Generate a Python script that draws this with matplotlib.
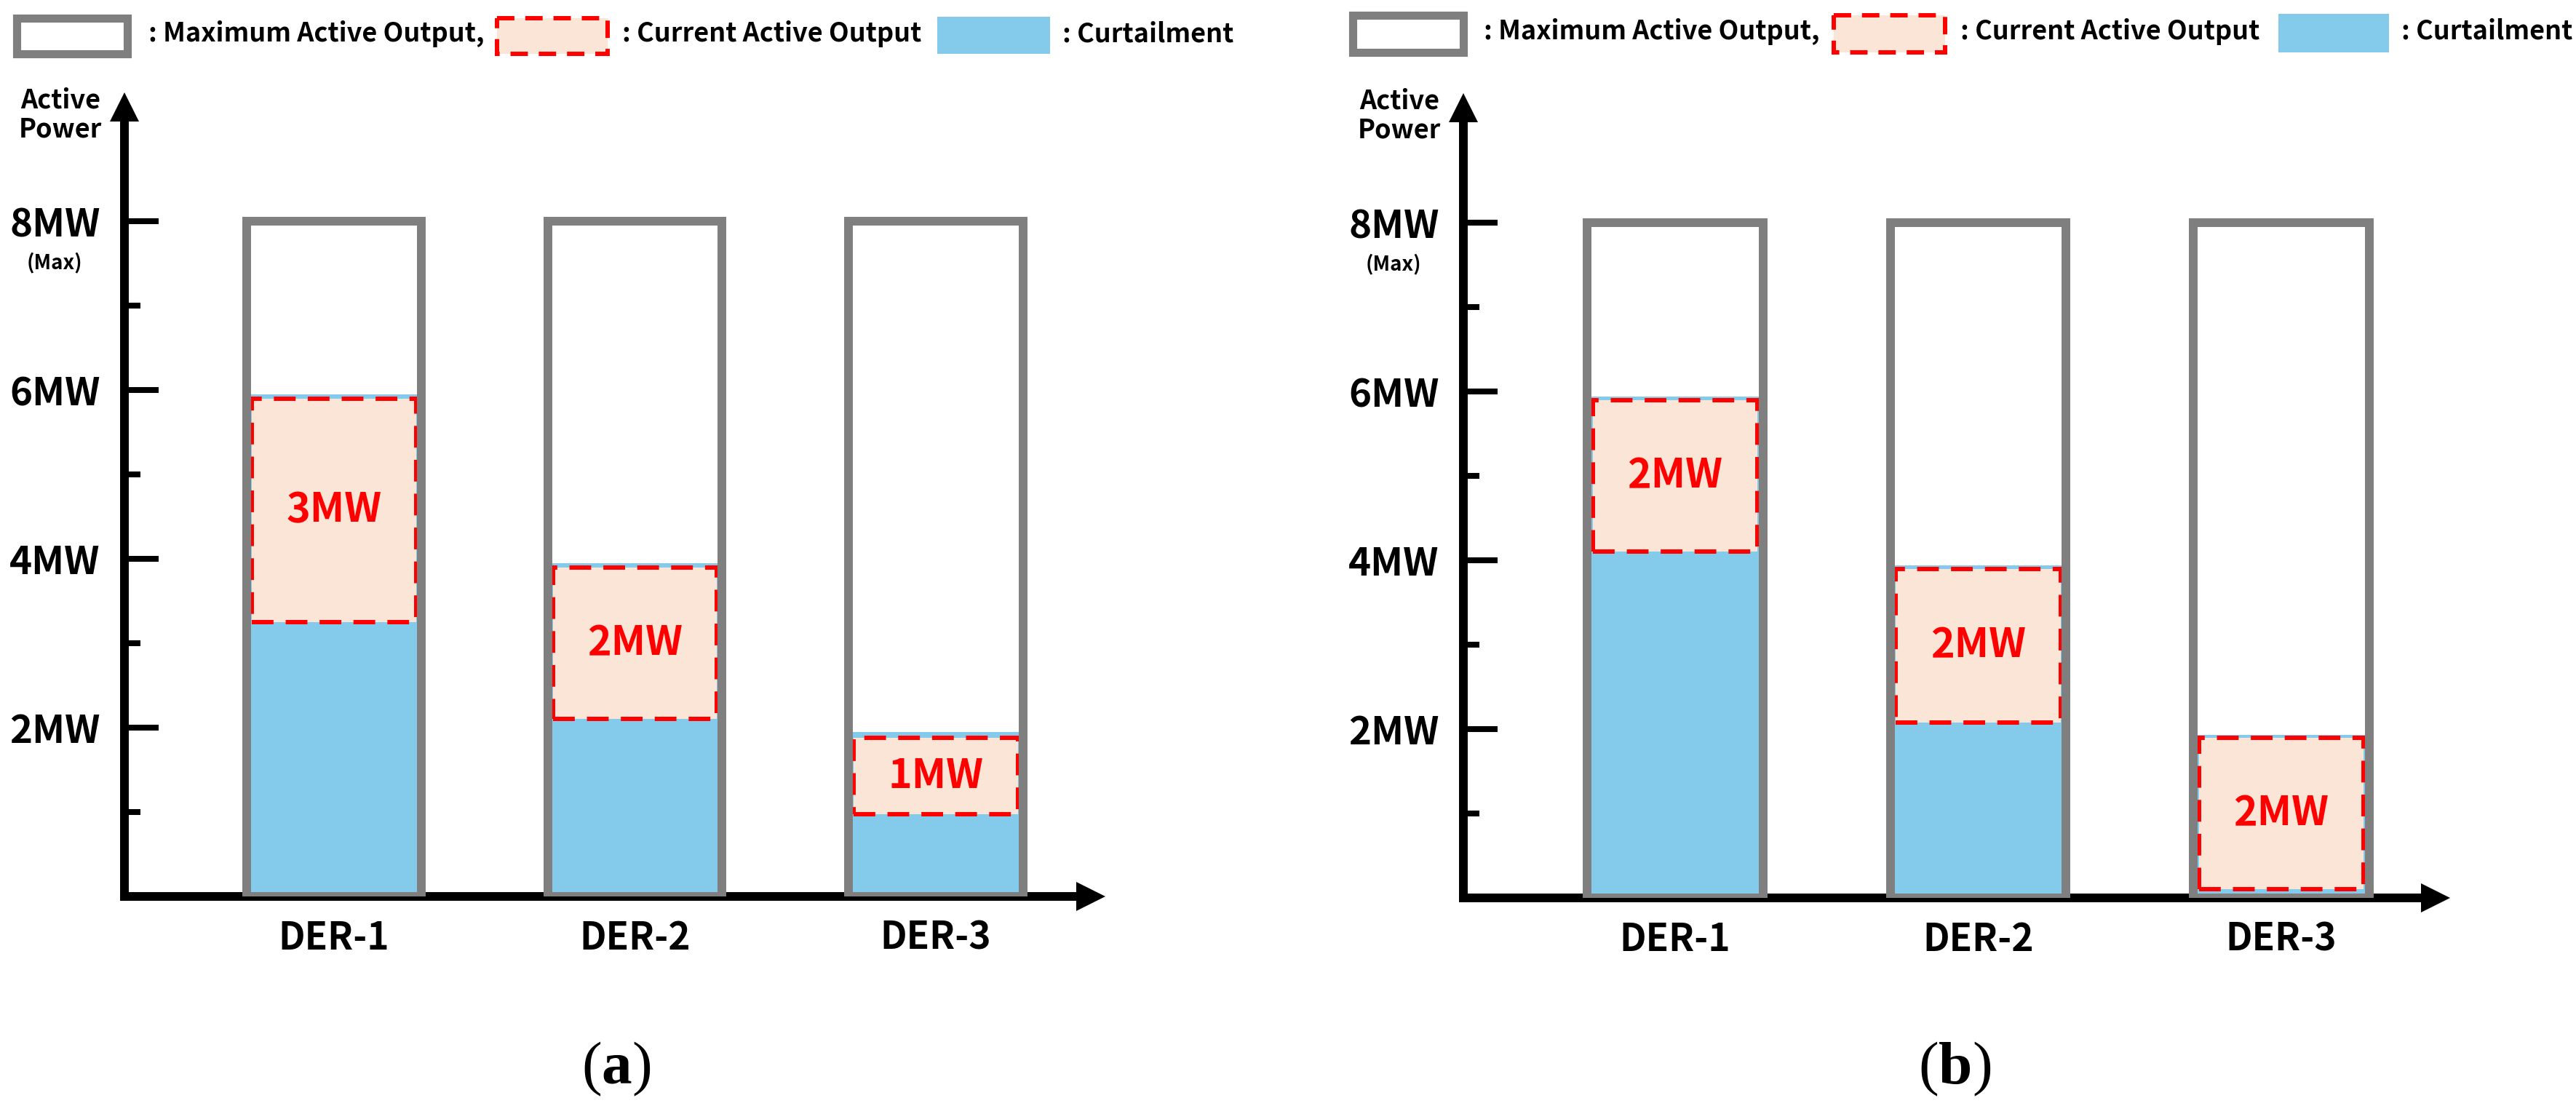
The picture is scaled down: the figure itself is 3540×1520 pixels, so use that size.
import matplotlib
matplotlib.use('Agg')
import matplotlib.pyplot as plt
from matplotlib.patches import Rectangle
import numpy as np

plt.rcParams['font.family'] = ['Noto Sans CJK KR', 'DejaVu Sans']
plt.rcParams['mathtext.fontset'] = 'custom'
plt.rcParams['mathtext.rm'] = 'Liberation Serif'
plt.rcParams['mathtext.bf'] = 'Liberation Serif:bold'

# Data
ders = ['DER-1', 'DER-2', 'DER-3']
max_output = [8, 8, 8]

avail_a = [5.95, 3.95, 1.95]
cur_lo_a = [3.25, 2.10, 0.97]
cur_hi_a = [5.90, 3.90, 1.88]
cur_lbl_a = ['3MW', '2MW', '1MW']

avail_b = [5.94, 3.94, 1.93]
cur_lo_b = [4.10, 2.08, 0.10]
cur_hi_b = [5.90, 3.90, 1.90]
cur_lbl_b = ['2MW', '2MW', '2MW']

ytick_vals = [2, 4, 6, 8]
ytick_lbls = ['2MW', '4MW', '6MW', '8MW']
yminor_vals = [1, 3, 5, 7]

# Colors
GRAY = '#7f7f7f'
BLUE = '#84caea'
PINK = '#fbe5d6'
RED = '#ff0000'

W, H = 3541, 1520
DPI = 100
PX_PER_MW = 116.0

fig = plt.figure(figsize=(W / DPI, H / DPI), dpi=DPI, facecolor='white')

# background axes in pixel coords for legend and panel tags
bg = fig.add_axes([0, 0, 1, 1])
bg.set_xlim(0, W)
bg.set_ylim(H, 0)
bg.axis('off')


def legend_row(x_gray, x_red, x_blue, x_txt, y0, y1):
    bg.add_patch(Rectangle((x_gray[0], y0), x_gray[1] - x_gray[0], y1 - y0,
                           facecolor='white', edgecolor=GRAY, lw=8))
    bg.add_patch(Rectangle((x_red[0], y0), x_red[1] - x_red[0], y1 - y0,
                           facecolor=PINK, edgecolor=RED, lw=4.3,
                           linestyle=(0, (4, 2.5))))
    bg.add_patch(Rectangle((x_blue[0], y0 - 2), x_blue[1] - x_blue[0], y1 - y0 + 2,
                           facecolor=BLUE, edgecolor='none'))
    yc = (y0 + y1) / 2 - 3
    for x, s in zip(x_txt, [': Maximum Active Output,', ': Current Active Output',
                            ': Curtailment']):
        bg.text(x, yc, s, fontsize=26, fontweight='bold', ha='left', va='center')


legend_row((23, 175), (683, 835), (1288, 1443), (204, 855, 1460), 25, 74)
legend_row((1859, 2011), (2520, 2673), (3131, 3283), (2039, 2694, 3300), 21, 72)

bg.text(847, 1469, r'($\mathbf{a}$)', fontsize=60, family='Liberation Serif',
        ha='center', va='center')
bg.text(2686, 1469, r'($\mathbf{b}$)', fontsize=60, family='Liberation Serif',
        ha='center', va='center')


def draw_panel(axis_px, first_px, step_px, tip_px, base_px, top_px,
               avail, lo, hi, lbls):
    ax = fig.add_axes([axis_px / W, (H - base_px) / H,
                       (tip_px - axis_px) / W, (base_px - top_px) / H])
    ax.patch.set_alpha(0)
    x0 = 1 - (first_px - axis_px) / step_px
    x1 = 1 + (tip_px - first_px) / step_px
    ytop = (base_px - top_px) / PX_PER_MW
    ax.set_xlim(x0, x1)
    ax.set_ylim(0, ytop)
    for sp in ax.spines.values():
        sp.set_visible(False)

    x = np.arange(1, len(ders) + 1)
    ax.bar(x, max_output, width=0.58, color='white', edgecolor='none', zorder=1)
    ax.bar(x, avail, width=0.56, color=BLUE, edgecolor='none', zorder=2)
    ax.bar(x, np.subtract(hi, lo), bottom=lo, width=0.545, color=PINK,
           edgecolor=RED, lw=4.3, linestyle=(0, (5, 2.8)), zorder=3)
    ax.bar(x, max_output, width=0.58, fill=False, edgecolor=GRAY, lw=8.6,
           joinstyle='miter', zorder=4)
    for xi, l, h, s in zip(x, lo, hi, lbls):
        ax.text(xi, (l + h) / 2, s, ha='center', va='center', color=RED,
                fontsize=40, fontweight='bold', zorder=5)

    # axis lines with arrow heads
    ax.plot([x0, x0], [0, ytop - 0.2], color='black', lw=8.6,
            solid_capstyle='projecting', clip_on=False, zorder=1.5)
    ax.plot([x0, x1 - 0.05], [0, 0], color='black', lw=8.6,
            solid_capstyle='projecting', clip_on=False, zorder=1.5)
    head = dict(arrowstyle='-|>,head_length=2.0,head_width=1.0',
                mutation_scale=14.4, lw=0, color='black',
                shrinkA=0, shrinkB=0)
    ax.annotate('', xy=(x0, ytop), xytext=(x0, 0), arrowprops=head,
                annotation_clip=False)
    ax.annotate('', xy=(x1, 0), xytext=(x0, 0), arrowprops=head,
                annotation_clip=False)

    ax.set_yticks(ytick_vals, ytick_lbls)
    ax.set_yticks(yminor_vals, minor=True)
    ax.tick_params(axis='y', which='major', direction='in', length=34,
                   width=5.8, pad=24, labelsize=38, colors='black')
    ax.tick_params(axis='y', which='minor', direction='in', length=16,
                   width=5.8)
    for t in ax.get_yticklabels():
        t.set_fontweight('bold')
    ax.set_xticks(x, ders)
    ax.tick_params(axis='x', length=0, pad=22, labelsize=37)
    for t in ax.get_xticklabels():
        t.set_fontweight('bold')

    ax.annotate('(Max)', xy=(0, 8), xycoords=('axes fraction', 'data'),
                xytext=(-96, -57), textcoords='offset pixels',
                ha='center', va='center', fontsize=20, fontweight='bold')
    ax.annotate('Active\nPower', xy=(0, 1), xycoords='axes fraction',
                xytext=(-88, -31), textcoords='offset pixels',
                ha='center', va='center', fontsize=26, fontweight='bold',
                linespacing=1.1)
    return ax


draw_panel(171, 459, 413.5, 1519, 1232, 127, avail_a, cur_lo_a, cur_hi_a, cur_lbl_a)
draw_panel(2011, 2302, 416.5, 3367, 1234, 128, avail_b, cur_lo_b, cur_hi_b, cur_lbl_b)

fig.savefig('out.png', dpi=DPI, facecolor='white')
